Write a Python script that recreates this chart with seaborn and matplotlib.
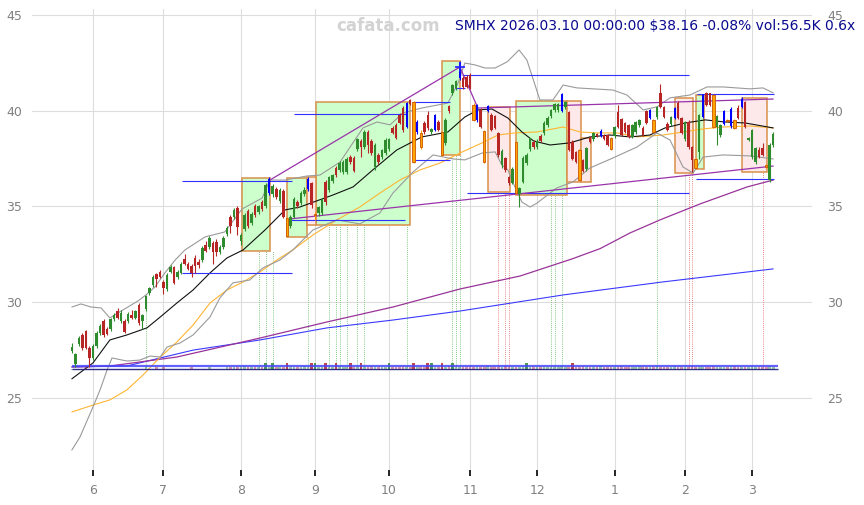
import numpy as np
import pandas as pd
import matplotlib
matplotlib.use("Agg")
import matplotlib.pyplot as plt
import seaborn as sns
from matplotlib.patches import Rectangle

# ---------------- data ----------------
holidays = ['2025-05-26', '2025-06-19', '2025-07-04', '2025-09-01', '2025-11-27',
            '2025-12-25', '2026-01-01', '2026-01-19', '2026-02-16']

opens = [27.45, 26.75, 27.8, 28.3, 28.5, 27.6, 27.1, 27.7, 28.4, 29.0,
         28.6, 28.6, 29.1, 29.55, 29.0, 29.0, 29.0, 29.35, 29.2, 29.85,
         29.0, 29.65, 30.5, 30.9, 31.45, 31.6, 31.05, 30.7, 31.6, 31.85,
         31.3, 31.55, 32.25, 32.0, 31.9, 32.3, 32.1, 32.2, 33.0, 32.9,
         33.1, 33.15, 32.6, 32.9, 33.55, 34.45, 34.45, 34.9, 33.2, 33.8,
         34.75, 34.15, 35.05, 34.7, 35.25, 35.0, 35.7, 35.65, 35.9, 35.3,
         35.8, 34.4, 34.0, 34.45, 35.25, 35.2, 35.65, 35.9, 36.2, 34.55,
         34.65, 34.65, 36.3, 35.85, 36.33, 37.0, 36.9, 36.8, 36.8, 37.6,
         37.55, 38.0, 38.4, 38.1, 38.9, 38.4, 37.05, 37.7, 37.6, 37.8,
         38.0, 39.1, 39.25, 39.8, 40.15, 39.15, 40.55, 40.45, 38.9, 38.85,
         39.35, 39.8, 38.9, 39.0, 39.4, 38.9, 38.3, 40.25, 40.9, 41.2,
         41.7, 41.7, 41.75, 41.85, 40.3, 39.5, 40.05, 38.95, 40.0, 39.8,
         39.7, 38.85, 37.15, 37.55, 36.55, 36.25, 38.35, 35.65, 36.3, 37.25,
         38.0, 38.35, 38.1, 38.7, 38.85, 39.25, 39.7, 40.05, 40.05, 40.0,
         40.2, 39.95, 38.35, 37.85, 37.95, 37.4, 36.95, 38.6, 38.5, 38.8,
         38.7, 38.75, 38.75, 38.6, 38.7, 39.95, 39.55, 39.35, 39.25, 38.65,
         38.9, 39.25, 39.1, 40.0, 39.6, 39.5, 39.65, 40.95, 40.2, 39.3,
         39.3, 39.6, 40.4, 39.6, 38.5, 39.4, 38.1, 37.5, 37.85, 39.65,
         40.95, 40.9, 40.8, 39.15, 38.75, 39.3, 39.5, 39.2, 39.5, 40.15,
         40.2, 40.45, 38.45, 37.6, 37.3, 37.95, 38.05, 37.15, 36.4, 38.2]

highs = [27.85, 27.35, 28.25, 28.4, 28.55, 27.7, 27.8, 28.5, 28.85, 29.1,
         28.7, 29.2, 29.45, 29.7, 29.6, 29.1, 29.5, 29.6, 29.6, 29.95,
         29.4, 30.4, 30.8, 31.4, 31.55, 31.7, 31.15, 31.5, 31.95, 31.9,
         31.7, 32.1, 32.5, 32.1, 32.0, 32.45, 32.25, 32.95, 33.2, 33.45,
         33.2, 33.3, 33.0, 33.45, 34.0, 34.55, 34.9, 35.0, 33.6, 34.65,
         34.85, 34.7, 35.15, 35.1, 35.35, 36.2, 36.55, 36.15, 36.0, 35.95,
         35.9, 34.45, 34.55, 35.5, 35.35, 35.8, 36.0, 36.55, 36.3, 34.7,
         35.0, 35.45, 36.4, 36.6, 36.7, 37.1, 37.35, 37.4, 37.6, 37.7,
         37.65, 38.6, 38.5, 39.0, 39.0, 38.5, 38.3, 37.8, 38.0, 38.55,
         38.6, 39.2, 39.35, 39.9, 40.25, 40.45, 40.6, 40.5, 39.5, 39.0,
         39.45, 40.0, 39.1, 39.85, 39.5, 38.95, 39.6, 40.3, 41.4, 41.6,
         42.6, 41.8, 41.85, 41.95, 40.4, 40.35, 40.15, 39.0, 40.3, 39.9,
         39.8, 38.9, 38.0, 37.6, 36.6, 37.05, 38.4, 36.0, 37.65, 37.8,
         38.6, 38.45, 38.5, 38.8, 39.45, 39.7, 40.1, 40.4, 40.4, 40.9,
         40.5, 40.0, 38.45, 37.9, 38.0, 37.5, 38.1, 38.7, 38.9, 38.85,
         39.05, 38.8, 38.8, 38.65, 39.2, 40.3, 39.6, 39.4, 39.3, 39.3,
         39.45, 39.55, 39.2, 40.05, 40.1, 39.55, 40.25, 41.4, 40.25, 39.4,
         39.7, 40.2, 40.5, 39.65, 39.45, 39.5, 38.15, 37.55, 39.85, 40.85,
         41.0, 40.95, 40.85, 39.75, 39.3, 40.05, 39.55, 40.2, 39.55, 40.3,
         40.7, 40.5, 38.65, 39.05, 38.1, 38.1, 38.3, 37.2, 38.3, 38.9]

lows = [27.35, 26.6, 27.7, 27.5, 27.55, 26.6, 27.0, 27.6, 28.3, 28.2,
        28.3, 28.5, 29.0, 29.1, 28.9, 28.4, 28.9, 29.1, 29.1, 28.8,
        28.6, 29.55, 30.4, 30.8, 30.8, 31.25, 30.45, 30.6, 31.5, 30.95,
        31.2, 31.45, 31.95, 31.7, 31.3, 31.55, 31.8, 32.1, 32.6, 32.8,
        32.0, 32.4, 32.5, 32.8, 33.45, 33.6, 34.35, 33.5, 33.0, 33.7,
        33.9, 34.05, 34.45, 34.6, 34.75, 34.9, 35.6, 35.5, 35.4, 35.2,
        34.4, 33.4, 33.9, 34.4, 34.9, 35.1, 35.55, 35.8, 34.9, 34.3,
        34.5, 34.55, 35.1, 35.75, 36.25, 36.55, 36.8, 36.7, 36.7, 37.2,
        36.8, 37.9, 37.6, 38.0, 37.8, 37.7, 36.9, 37.2, 37.5, 37.7,
        37.9, 38.8, 38.5, 39.3, 38.9, 39.1, 40.3, 37.25, 38.8, 38.0,
        38.8, 39.0, 38.8, 38.95, 38.95, 37.65, 38.2, 39.9, 40.8, 41.1,
        41.6, 41.15, 41.2, 41.15, 39.45, 39.4, 39.1, 37.25, 39.95, 38.95,
        39.05, 37.6, 37.0, 36.8, 36.1, 36.15, 35.65, 34.95, 36.2, 37.15,
        37.9, 38.0, 38.0, 38.35, 38.75, 39.15, 39.6, 39.95, 39.95, 39.95,
        40.1, 37.9, 37.45, 37.25, 36.35, 36.8, 36.85, 38.3, 38.4, 38.65,
        38.65, 38.45, 38.15, 37.95, 38.6, 39.1, 38.7, 38.85, 38.6, 38.55,
        38.8, 39.15, 38.7, 39.3, 39.55, 38.85, 39.55, 40.15, 39.6, 38.95,
        39.2, 39.55, 39.55, 38.8, 38.4, 38.0, 36.8, 36.95, 37.5, 39.6,
        40.25, 40.25, 39.1, 38.2, 38.65, 39.25, 39.4, 39.1, 39.05, 39.55,
        40.15, 39.1, 38.4, 37.5, 37.2, 37.55, 37.65, 37.0, 36.3, 38.1]

closes = [27.65, 27.3, 28.15, 27.6, 27.6, 27.1, 27.7, 28.4, 28.75, 28.3,
          28.35, 29.1, 29.35, 29.2, 29.45, 28.45, 29.4, 29.2, 29.55, 28.9,
          29.35, 30.3, 30.75, 31.3, 31.2, 31.3, 30.75, 31.4, 31.85, 31.0,
          31.6, 32.0, 32.0, 31.75, 31.5, 31.9, 31.95, 32.83, 32.7, 33.35,
          32.6, 32.6, 32.9, 33.35, 33.9, 34.0, 34.8, 33.95, 33.5, 34.55,
          34.0, 34.6, 34.55, 35.05, 34.85, 36.1, 36.45, 36.05, 35.5, 35.85,
          34.45, 33.45, 34.45, 35.4, 35.0, 35.7, 35.85, 36.45, 35.1, 34.6,
          34.95, 35.35, 35.25, 36.55, 36.65, 36.65, 37.25, 37.3, 37.5, 37.3,
          36.85, 38.5, 38.1, 38.9, 38.2, 37.8, 38.2, 37.3, 37.95, 38.45,
          38.5, 38.85, 38.6, 39.35, 39.0, 40.4, 40.35, 37.3, 39.4, 38.1,
          38.9, 39.1, 39.05, 39.8, 39.0, 37.7, 39.5, 40.0, 41.35, 41.55,
          42.55, 41.25, 41.25, 41.2, 39.5, 40.3, 39.15, 37.3, 40.25, 39.0,
          39.1, 37.7, 37.9, 36.9, 36.2, 36.95, 35.7, 35.95, 37.55, 37.7,
          38.55, 38.1, 38.4, 38.4, 39.35, 39.6, 40.05, 40.35, 40.35, 40.85,
          40.45, 37.95, 37.5, 37.3, 36.4, 36.85, 38.05, 38.35, 38.85, 38.7,
          38.95, 38.5, 38.2, 38.0, 39.15, 39.15, 38.75, 38.9, 38.65, 39.25,
          39.4, 39.5, 38.75, 39.35, 40.05, 38.9, 40.2, 40.2, 39.65, 39.0,
          39.65, 40.15, 39.6, 38.85, 39.4, 38.1, 37.4, 37.0, 39.8, 40.8,
          40.3, 40.3, 39.15, 39.7, 39.25, 40.0, 39.45, 40.1, 39.1, 39.6,
          40.6, 39.15, 38.6, 39.0, 38.05, 37.6, 37.7, 37.05, 38.2, 38.8]

volumes_k = [15, 15, 15, 15, 50, 15, 15, 15, 15, 15, 15, 15, 15, 15, 15, 15, 15, 15, 15, 15,
             15, 50, 15, 15, 50, 15, 50, 15, 15, 15, 15, 15, 15, 15, 50, 15, 15, 15, 15, 50,
             15, 15, 15, 15, 45, 50, 55, 45, 50, 60, 45, 50, 55, 50, 45, 110, 50, 110, 45, 55,
             50, 110, 45, 50, 55, 45, 60, 50, 110, 110, 45, 50, 110, 55, 45, 110, 60, 50, 45, 110,
             50, 55, 110, 45, 50, 60, 45, 55, 50, 45, 110, 50, 55, 45, 60, 50, 45, 110, 55, 50,
             45, 110, 110, 50, 55, 110, 45, 60, 110, 50, 45, 55, 50, 60, 45, 50, 55, 45, 60, 50,
             45, 55, 50, 60, 45, 50, 55, 45, 60, 110, 45, 50, 55, 45, 60, 50, 45, 55, 50, 60,
             45, 50, 110, 55, 45, 60, 50, 45, 55, 50, 60, 45, 50, 55, 45, 50, 60, 45, 55, 50,
             45, 60, 50, 55, 45, 50, 60, 45, 55, 50, 45, 60, 50, 55, 45, 50, 60, 45, 55, 50,
             45, 50, 60, 55, 45, 50, 55, 45, 60, 50, 45, 55, 50, 60, 45, 50, 55, 45, 60, 56.5]

blue_idx = [56, 67, 95, 98, 103, 110, 115, 118, 139, 150, 164, 171, 179, 185, 187, 190]
orange_idx = [61, 69, 97, 99, 105, 114, 117, 126, 144, 153, 165, 177, 182, 186, 188, 197]

# indicator lines: (bar index, price) samples
sma20_x = [0, 6, 10.8, 15.6, 21.3, 25.1, 29.8, 34.4, 39.2, 44, 48.6, 54.8, 60.5, 64.7, 74.1, 79.8,
           85.4, 92.2, 99.3, 106.7, 111.5, 115.2, 119.2, 123.7, 127.7, 131, 135.7, 141.3, 147,
           152.7, 158.4, 164, 168.3, 174, 179.7, 185.3, 191, 199]
sma20_y = [26.0, 26.83, 28.03, 28.29, 28.66, 29.23, 29.96, 30.64, 31.53, 32.31, 32.73, 33.77, 34.82,
           34.97, 35.6, 36.02, 36.91, 37.95, 38.63, 38.89, 39.67, 40.04, 40.09, 39.62, 38.89, 38.42,
           38.21, 38.32, 38.63, 38.73, 38.63, 38.73, 39.1, 39.36, 39.52, 39.41, 39.36, 39.1]

bbu_x = [0, 2.6, 5.4, 8.3, 10.8, 13.1, 15.9, 18.8, 21, 23.6, 26.4, 29.3, 32.1, 37.8, 43.4, 48.3, 54,
         56.2, 60.5, 66.7, 70.4, 76.1, 82.6, 86.6, 90.3, 93.9, 99.3, 106.7, 109.6, 111.5, 114.4,
         117.2, 120.1, 123.5, 126.9, 129.1, 132.8, 136.5, 139.4, 143.3, 153.5, 157.5, 162.1, 166,
         169.7, 175.4, 180.2, 184.8, 192.4, 196.1, 199]
bbu_y = [29.75, 29.91, 29.75, 29.7, 29.18, 29.44, 29.75, 30.07, 30.38, 30.8, 31.53, 32.2, 32.73,
         33.41, 33.67, 34.87, 35.44, 36.38, 36.38, 36.59, 36.64, 37.32, 39.1, 39.41, 39.26, 39.88,
         40.14, 40.4, 41.45, 42.49, 42.39, 42.23, 42.23, 42.55, 43.17, 42.65, 40.56, 40.56, 41.34,
         41.19, 41.08, 40.82, 40.04, 40.2, 40.67, 40.82, 41.24, 41.24, 41.14, 41.19, 40.93]

bbl_x = [0, 2.3, 6, 8, 10, 11.4, 15.6, 19.3, 22.2, 25.1, 27, 30.7, 34.4, 39.2, 42, 45.7, 50.5, 54.2,
         59.1, 62.7, 68.4, 75.2, 81.7, 87.4, 91.1, 96.8, 102.5, 108.2, 111.5, 116.4, 120.1, 122,
         123.7, 125.7, 127.7, 130, 132, 137.6, 142.2, 147, 153.5, 160.4, 166, 169.7, 173.4, 176.3,
         179.1, 184.8, 192.4, 199]
bbl_y = [22.28, 22.96, 24.53, 25.42, 26.46, 27.09, 26.93, 26.98, 27.19, 27.14, 27.66, 27.87, 28.29,
         29.23, 30.22, 31.01, 31.16, 31.79, 32.21, 32.73, 33.77, 34.3, 34.09, 34.66, 35.7, 36.8,
         37.69, 37.48, 37.43, 37.79, 37.85, 37.17, 36.91, 36.02, 35.23, 34.97, 35.18, 35.97, 36.28,
         37.01, 37.53, 38.11, 38.84, 38.47, 37.06, 36.75, 37.58, 37.69, 37.64, 37.48]

sma50_x = [0, 6, 10.8, 15.6, 20.2, 25.1, 29.8, 34.4, 39.2, 44, 48.6, 53.4, 58.2, 62.7, 68.4, 75.2,
           81.7, 87.4, 93.1, 98.8, 104.5, 110.1, 116.4, 120.9, 125.7, 132, 139.4, 144.2, 149,
           154.7, 160.4, 167.7, 173.4, 179.1, 184.8, 192.4, 199]
sma50_y = [24.27, 24.63, 24.9, 25.42, 26.2, 27.14, 27.92, 28.81, 29.96, 30.64, 31.06, 31.58, 32.21,
           32.73, 33.51, 34.3, 34.97, 35.7, 36.38, 36.91, 37.27, 37.79, 38.32, 38.73, 38.84, 38.89,
           39.15, 38.89, 38.84, 38.84, 38.63, 38.73, 38.89, 39.05, 39.15, 39.2, 39.1]

sma100_x = [0, 10.8, 29.8, 53.4, 72.4, 91.1, 110.1, 127.2, 141.9, 149.9, 158.4, 166.9, 178.2, 191.6, 199]
sma100_y = [26.62, 26.67, 27.14, 28.13, 28.97, 29.75, 30.69, 31.37, 32.26, 32.8, 33.62, 34.3, 35.13, 36.02, 36.38]

sma200_x = [0, 15.6, 34.4, 53.4, 72.4, 91.1, 110.1, 139.4, 167.7, 199]
sma200_y = [26.62, 26.67, 27.5, 28.03, 28.66, 29.07, 29.54, 30.38, 31.06, 31.74]

# zones: (start index, end index, low price, high price)
green_zones = [(48.3, 56.2, 32.68, 36.48), (61.1, 66.7, 33.4, 36.5), (69.3, 95.9, 34.03, 40.46),
               (105.0, 110.1, 37.69, 42.6), (126.0, 140.5, 35.6, 40.5), (177.1, 179.4, 36.96, 40.82)]
pink_zones = [(66.7, 69.3, 34.03, 36.54), (118.1, 124.3, 35.76, 40.2), (140.5, 144.5, 36.28, 40.5),
              (144.5, 147.3, 36.28, 38.58), (171.1, 176.3, 36.75, 40.67), (190.2, 197.3, 36.8, 40.67)]

# horizontal levels: (start index, end index, price)
levels = [(31.2, 62.5, 36.33), (31.2, 62.5, 31.53), (63.0, 95.1, 39.83), (61.3, 94.5, 34.3),
          (96.8, 107.3, 40.46), (97.3, 107.3, 37.4), (110.6, 175.1, 41.87), (112.1, 175.1, 35.7),
          (177.4, 199.3, 40.87), (177.1, 199.3, 36.43), (108.7, 111.5, 41.19)]

# trend lines: (x0, y0, x1, y1)
trends = [(56.2, 36.38, 110.1, 42.28), (110.1, 42.28, 115.2, 40.14),
          (115.2, 40.14, 199.0, 40.61), (61.9, 34.35, 199.0, 37.11)]

green_signals = [21, 53, 55, 57, 67, 73, 75, 76, 78, 81, 83, 95, 108, 109, 110, 136, 137, 139, 166]
green_sig_top = [29.6, 32.68, 32.68, 32.68, 33.4, 34.03, 34.03, 34.03, 34.03, 34.03, 34.03, 34.03,
                 37.69, 37.69, 37.69, 35.6, 35.6, 35.6, 38.9]
red_signals = [121, 123, 124, 175, 176, 196]
red_sig_top = [35.76, 35.76, 35.76, 36.75, 36.75, 36.8]

title_text = "SMHX 2026.03.10 00:00:00 $38.16 -0.08% vol:56.5K 0.6x"
watermark = "cafata.com"
y_ticks = [25, 30, 35, 40, 45]

# ---------------- figure ----------------
sns.set_theme(style="white")
plt.rcParams['font.family'] = ['DejaVu Sans']

n = len(closes)
dates = pd.bdate_range('2025-05-22', '2026-03-10', freq='C', holidays=holidays)[:n]
idx = np.arange(n)

fig = plt.figure(figsize=(8.64, 5.05), dpi=100)
ax = fig.add_axes([32 / 864, 1 - 470 / 505, (812 - 32) / 864, (470 - 9) / 505])
ax.set_xlim(-11.3, 210.0)
ax.set_ylim(21.24, 45.31)

GREEN = '#2e8b2e'
RED = '#b82525'
EDGE = '#d9904a'

# zones
for x0, x1, lo, hi in green_zones:
    ax.add_patch(Rectangle((x0, lo), x1 - x0, hi - lo, facecolor='#ccffcc', edgecolor=EDGE,
                           lw=1.1, zorder=1))
for x0, x1, lo, hi in pink_zones:
    ax.add_patch(Rectangle((x0, lo), x1 - x0, hi - lo, facecolor='#fde9e9', edgecolor=EDGE,
                           lw=1.1, zorder=1))

# signal dotted lines
for i, top in zip(green_signals, green_sig_top):
    ax.vlines(i, 26.6, top, colors='#5cb85c', linestyles=(0, (1, 1.5)), lw=0.6, zorder=1.5)
for i, top in zip(red_signals, red_sig_top):
    ax.vlines(i, 26.6, top, colors='#e06060', linestyles=(0, (1, 1.5)), lw=0.6, zorder=1.5)

# indicator lines via seaborn
def sline(xs, ys, color, lw):
    df = pd.DataFrame({'x': xs, 'y': ys})
    sns.lineplot(data=df, x='x', y='y', ax=ax, color=color, lw=lw, sort=False,
                 estimator=None, zorder=2)

sline(sma200_x, sma200_y, '#3a3aff', 0.8)
sline(sma100_x, sma100_y, '#993399', 0.9)
sline(sma50_x, sma50_y, '#ffb533', 0.8)
sline(bbu_x, bbu_y, '#9a9a9a', 0.8)
sline(bbl_x, bbl_y, '#9a9a9a', 0.8)
sline(sma20_x, sma20_y, '#111111', 0.8)

# levels and trend lines
for x0, x1, p in levels:
    ax.hlines(p, x0, x1, colors='#3030ff', lw=0.8, zorder=2.2)
for x0, y0, x1, y1 in trends:
    ax.plot([x0, x1], [y0, y1], color='#9933aa', lw=0.9, zorder=2.2)
ax.plot([110.1], [42.28], marker='+', color='#2020ff', ms=7, mew=1.2, zorder=4)

# volume strip
vol_base = 26.45
for i in idx:
    up = closes[i] >= opens[i]
    c = GREEN if up else RED
    v = volumes_k[i]
    ax.bar(i, v / 100 * 0.33, bottom=vol_base, width=0.75, color=c,
           alpha=0.85 if v >= 100 else 0.45, lw=0, zorder=2.5)
ax.hlines(26.65, 0, 200.3, colors='#4646ff', lw=1.6, alpha=0.85, zorder=2.6)
ax.hlines(26.52, 0, 200.3, colors='#1c1c80', lw=1.0, alpha=0.9, zorder=2.6)

# candles
for i in idx:
    o, h, l, c = opens[i], highs[i], lows[i], closes[i]
    lo_b, hgt = min(o, c), max(abs(c - o), 0.04)
    if i in blue_idx:
        ax.vlines(i, l, h, colors='#0000ff', lw=0.8, zorder=3)
        ax.bar(i, hgt, bottom=lo_b, width=0.5, color='#0000ff', lw=0, zorder=3.1)
    elif i in orange_idx:
        ax.vlines(i, l, h, colors='#ff9900', lw=0.8, zorder=3)
        ax.bar(i, hgt, bottom=lo_b, width=0.7, color='#ffa500', edgecolor='#cc5500',
               lw=0.6, zorder=3.1)
    else:
        col = GREEN if c >= o else RED
        ax.vlines(i, l, h, colors=col, lw=0.8, zorder=3)
        ax.bar(i, hgt, bottom=lo_b, width=0.72, color=col, lw=0, zorder=3.1)

# axes styling
month_pos = [i for i in range(1, n) if dates[i].month != dates[i - 1].month]
ax.set_xticks(month_pos)
ax.set_xticklabels([str(dates[i].month) for i in month_pos])
ax.set_yticks(y_ticks)
ax.set_yticklabels([str(t) for t in y_ticks])
ax.grid(True, color='#dddddd', lw=0.8)
ax.set_axisbelow(True)
for s in ax.spines.values():
    s.set_visible(False)
ax.set_xlabel('')
ax.set_ylabel('')
ax.tick_params(axis='y', left=False, right=False, length=0, labelleft=False, labelright=True,
               labelsize=9, labelcolor='#808080', pad=11)
ax.tick_params(axis='x', bottom=True, length=4, width=1.2, color='black',
               labelsize=9, labelcolor='#808080', pad=6)

sec = ax.secondary_yaxis('left')
sec.set_yticks(y_ticks)
sec.set_yticklabels([str(t) for t in y_ticks])
sec.tick_params(axis='y', length=0, labelsize=9, labelcolor='#808080', pad=7)
for s in sec.spines.values():
    s.set_visible(False)

fig.text(388 / 864, 1 - 26 / 505, watermark, ha='center', va='center', fontsize=12,
         fontweight='bold', color='#d3d3d3')
fig.text(855 / 864, 1 - 26 / 505, title_text, ha='right', va='center', fontsize=10,
         color='#0a0a90')

fig.savefig('out.png', dpi=100)
